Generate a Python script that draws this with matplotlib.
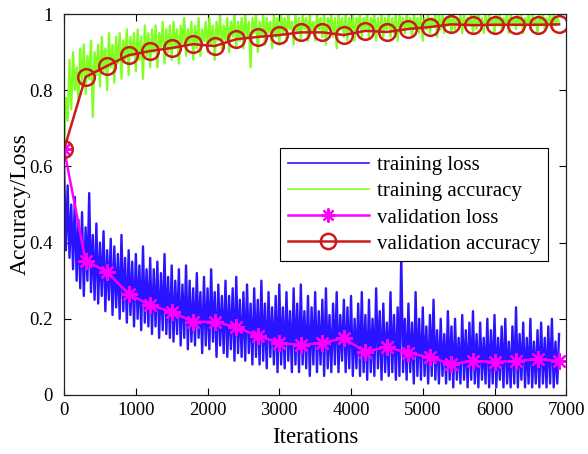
import numpy as np
import matplotlib
matplotlib.use("Agg")
import matplotlib.pyplot as plt

plt.rcParams['font.family'] = ['Liberation Serif', 'DejaVu Serif']

# training curves, one value every 25 iterations
train_step = 25
train_loss = [
    0.60, 0.38, 0.55, 0.36, 0.50, 0.33, 0.52, 0.30, 0.46, 0.28,
    0.48, 0.26, 0.44, 0.30, 0.53, 0.27, 0.42, 0.25, 0.45, 0.24,
    0.40, 0.26, 0.43, 0.22, 0.38, 0.25, 0.41, 0.21, 0.39, 0.23,
    0.37, 0.20, 0.42, 0.22, 0.36, 0.19, 0.38, 0.21, 0.35, 0.18,
    0.37, 0.20, 0.34, 0.17, 0.39, 0.19, 0.33, 0.18, 0.36, 0.16,
    0.33, 0.18, 0.35, 0.15, 0.32, 0.17, 0.37, 0.16, 0.31, 0.15,
    0.34, 0.14, 0.30, 0.16, 0.33, 0.13, 0.29, 0.15, 0.34, 0.12,
    0.30, 0.14, 0.28, 0.13, 0.32, 0.15, 0.27, 0.11, 0.31, 0.13,
    0.28, 0.12, 0.33, 0.14, 0.27, 0.10, 0.29, 0.13, 0.26, 0.11,
    0.30, 0.10, 0.26, 0.12, 0.28, 0.09, 0.31, 0.11, 0.25, 0.10,
    0.27, 0.09, 0.29, 0.11, 0.24, 0.08, 0.28, 0.10, 0.25, 0.08,
    0.30, 0.09, 0.24, 0.07, 0.27, 0.10, 0.23, 0.08, 0.26, 0.06,
    0.29, 0.08, 0.23, 0.07, 0.27, 0.09, 0.22, 0.06, 0.28, 0.08,
    0.24, 0.06, 0.29, 0.08, 0.22, 0.07, 0.26, 0.05, 0.23, 0.08,
    0.27, 0.06, 0.22, 0.08, 0.25, 0.05, 0.28, 0.07, 0.21, 0.06,
    0.24, 0.08, 0.27, 0.06, 0.21, 0.09, 0.25, 0.06, 0.23, 0.07,
    0.26, 0.05, 0.20, 0.07, 0.24, 0.05, 0.27, 0.06, 0.21, 0.04,
    0.25, 0.06, 0.20, 0.05, 0.28, 0.07, 0.22, 0.04, 0.24, 0.06,
    0.19, 0.05, 0.27, 0.06, 0.21, 0.04, 0.23, 0.05, 0.37, 0.06,
    0.20, 0.04, 0.24, 0.06, 0.19, 0.03, 0.27, 0.05, 0.20, 0.04,
    0.23, 0.05, 0.18, 0.03, 0.21, 0.05, 0.25, 0.04, 0.17, 0.03,
    0.20, 0.05, 0.16, 0.03, 0.22, 0.04, 0.18, 0.02, 0.20, 0.04,
    0.15, 0.03, 0.21, 0.04, 0.17, 0.02, 0.19, 0.04, 0.22, 0.03,
    0.16, 0.02, 0.19, 0.04, 0.15, 0.03, 0.20, 0.02, 0.17, 0.03,
    0.21, 0.02, 0.15, 0.04, 0.18, 0.02, 0.20, 0.03, 0.14, 0.02,
    0.18, 0.03, 0.23, 0.02, 0.16, 0.04, 0.19, 0.02, 0.15, 0.03,
    0.20, 0.02, 0.14, 0.03, 0.17, 0.02, 0.19, 0.03, 0.15, 0.02,
    0.18, 0.03, 0.20, 0.02, 0.14, 0.03, 0.16,
]
train_acc = [
    0.64, 0.78, 0.72, 0.88, 0.75, 0.90, 0.80, 0.86, 0.77, 0.91,
    0.82, 0.92, 0.79, 0.89, 0.83, 0.93, 0.73, 0.90, 0.84, 0.92,
    0.81, 0.94, 0.85, 0.91, 0.80, 0.95, 0.86, 0.92, 0.82, 0.94,
    0.87, 0.95, 0.83, 0.93, 0.88, 0.96, 0.84, 0.94, 0.89, 0.95,
    0.85, 0.96, 0.88, 0.94, 0.83, 0.97, 0.89, 0.95, 0.86, 0.96,
    0.90, 0.97, 0.86, 0.95, 0.91, 0.98, 0.87, 0.96, 0.90, 0.97,
    0.88, 0.98, 0.91, 0.96, 0.87, 0.97, 0.92, 0.99, 0.89, 0.96,
    0.92, 0.98, 0.88, 0.97, 0.91, 0.99, 0.89, 0.96, 0.93, 0.98,
    0.90, 0.99, 0.92, 0.97, 0.88, 0.98, 0.93, 1.00, 0.91, 0.97,
    0.93, 0.99, 0.90, 0.98, 0.94, 1.00, 0.91, 0.98, 0.93, 0.99,
    0.91, 1.00, 0.94, 0.98, 0.86, 0.99, 0.95, 1.00, 0.90, 0.98,
    0.94, 1.00, 0.92, 0.99, 0.95, 0.98, 0.91, 1.00, 0.94, 0.99,
    0.92, 1.00, 0.95, 0.99, 0.93, 1.00, 0.96, 0.98, 0.92, 1.00,
    0.95, 0.99, 0.93, 1.00, 0.96, 0.99, 0.93, 1.00, 0.95, 0.98,
    0.93, 1.00, 0.96, 0.99, 0.94, 1.00, 0.92, 0.99, 0.96, 1.00,
    0.94, 0.99, 0.91, 1.00, 0.96, 0.99, 0.94, 1.00, 0.93, 0.99,
    0.95, 1.00, 0.93, 0.99, 0.96, 1.00, 0.94, 0.99, 0.96, 1.00,
    0.94, 0.99, 0.96, 1.00, 0.93, 0.99, 0.95, 1.00, 0.94, 0.99,
    0.96, 1.00, 0.94, 0.99, 0.95, 1.00, 0.93, 1.00, 0.96, 0.99,
    0.95, 1.00, 0.96, 0.99, 0.94, 1.00, 0.96, 0.99, 0.95, 1.00,
    0.93, 0.99, 0.96, 1.00, 0.95, 0.99, 0.97, 1.00, 0.94, 1.00,
    0.96, 1.00, 0.95, 0.99, 0.97, 1.00, 0.95, 1.00, 0.96, 0.99,
    0.97, 1.00, 0.95, 1.00, 0.96, 0.99, 0.97, 1.00, 0.95, 1.00,
    0.96, 1.00, 0.97, 0.99, 0.95, 1.00, 0.96, 1.00, 0.97, 0.99,
    0.95, 1.00, 0.97, 1.00, 0.96, 0.99, 0.97, 1.00, 0.95, 1.00,
    0.97, 0.99, 0.96, 1.00, 0.97, 1.00, 0.95, 0.99, 0.97, 1.00,
    0.96, 1.00, 0.97, 0.99, 0.95, 1.00, 0.97, 1.00, 0.96, 0.99,
    0.97, 1.00, 0.96, 1.00, 0.97, 0.99, 0.98,
]

# validation every 300 iterations
val_iter = [0, 300, 600, 900, 1200, 1500, 1800, 2100, 2400, 2700, 3000, 3300,
            3600, 3900, 4200, 4500, 4800, 5100, 5400, 5700, 6000, 6300, 6600, 6900]
val_loss = [0.645, 0.352, 0.323, 0.265, 0.236, 0.218, 0.192, 0.192, 0.178, 0.155,
            0.137, 0.131, 0.137, 0.149, 0.113, 0.126, 0.110, 0.099, 0.081, 0.089,
            0.087, 0.089, 0.094, 0.089]
val_acc = [0.645, 0.835, 0.864, 0.892, 0.903, 0.911, 0.921, 0.916, 0.934, 0.940,
           0.945, 0.952, 0.952, 0.945, 0.956, 0.953, 0.961, 0.966, 0.973, 0.971,
           0.972, 0.972, 0.972, 0.973]

xticks = [0, 1000, 2000, 3000, 4000, 5000, 6000, 7000]
yticks = [0, 0.2, 0.4, 0.6, 0.8, 1]
ytick_labels = ["0", "0.2", "0.4", "0.6", "0.8", "1"]

train_iter = np.arange(len(train_loss)) * train_step

fig = plt.figure(figsize=(5.88, 4.54), dpi=100)
ax = fig.add_axes([0.109, 0.130, 0.854, 0.839])

ax.plot(train_iter, train_loss, color='#2a14ff', lw=1.7, label='training loss')
ax.plot(train_iter, train_acc, color='#80ff20', lw=1.6, label='training accuracy')
ax.plot(val_iter, val_loss, color='#ff00ff', lw=1.8, marker=(8, 2, 0),
        markersize=12, markeredgewidth=1.6, label='validation loss')
ax.plot(val_iter, val_acc, color='#cc1a1a', lw=1.8, marker='o', markersize=12,
        markerfacecolor='none', markeredgewidth=1.8, label='validation accuracy')

ax.set_xlim(0, 7000)
ax.set_ylim(0, 1)
ax.set_xticks(xticks)
ax.set_yticks(yticks)
ax.set_yticklabels(ytick_labels)
ax.tick_params(direction='in', top=True, right=True, labelsize=13.5, length=5,
               width=0.8)
ax.tick_params(axis='x', pad=5)
ax.tick_params(axis='y', pad=8)
for s in ax.spines.values():
    s.set_linewidth(0.9)
    s.set_color('#222222')
ax.set_xlabel('Iterations', fontsize=16.5, labelpad=6)
ax.set_ylabel('Accuracy/Loss', fontsize=17, labelpad=-1)

leg = ax.legend(loc='upper right', bbox_to_anchor=(0.964, 0.648), fontsize=15,
                fancybox=False, framealpha=1, edgecolor='black', handlelength=3.9,
                borderpad=0.35, labelspacing=0.32, handletextpad=0.4,
                borderaxespad=0)
leg.get_frame().set_linewidth(0.8)
handles = leg.legend_handles
handles[0].set_linewidth(1.2)
handles[1].set_linewidth(1.2)
handles[2].set_markersize(10)
handles[3].set_markersize(11)

fig.savefig('out.png', dpi=100)
